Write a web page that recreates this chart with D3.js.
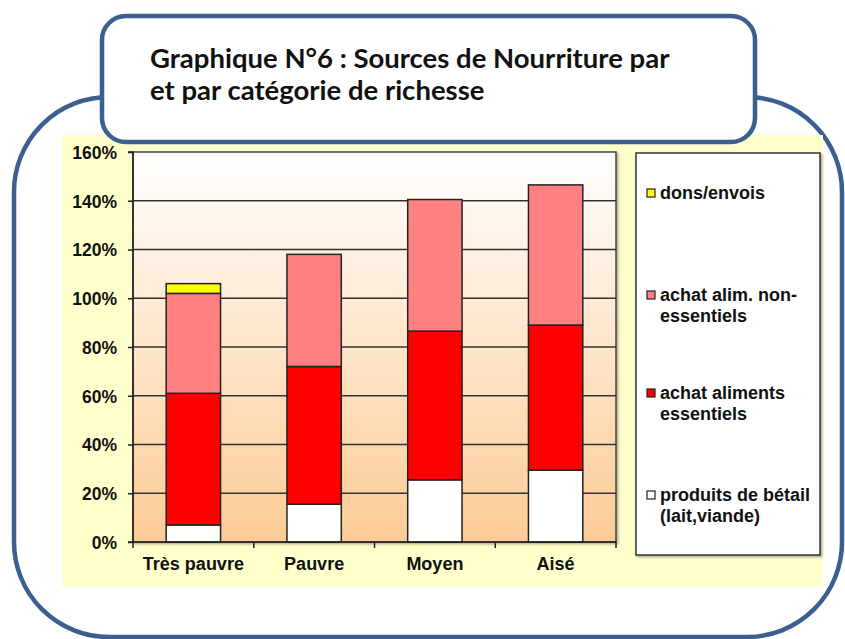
<!DOCTYPE html>
<html><head><meta charset="utf-8">
<script src="https://cdn.jsdelivr.net/npm/d3@7"></script>
<style>html,body{margin:0;padding:0;background:#fff;}svg{display:block;}</style>
</head><body>
<script>
const categories = ["Très pauvre", "Pauvre", "Moyen", "Aisé"];
const produitsBetail = [7, 15.5, 25.5, 29.5];
const achatEssentiels = [54, 56.5, 61, 59.5];
const achatNonEssentiels = [41, 46, 54, 57.5];
const dons = [4, 0, 0, 0];
const seriesNames = ["produits de bétail (lait,viande)", "achat aliments essentiels", "achat alim. non-essentiels", "dons/envois"];
const seriesColors = ["#FFFFFF", "#FF0000", "#FF8080", "#FFFF00"];
const yTicks = [0, 20, 40, 60, 80, 100, 120, 140, 160];
const titleLines = ["Graphique N°6 : Sources de Nourriture par", "et par catégorie de richesse"];
const legendLines = [
  ["dons/envois"],
  ["achat alim. non-", "essentiels"],
  ["achat aliments", "essentiels"],
  ["produits de bétail", "(lait,viande)"]
];
const legendColors = ["#FFFF00", "#FF8080", "#FF0000", "#FFFFFF"];

const W = 845, H = 639;
const svg = d3.select("body").append("svg").attr("width", W).attr("height", H);
const defs = svg.append("defs");
const grad = defs.append("linearGradient").attr("id", "bg").attr("x1", 0).attr("y1", 0).attr("x2", 0).attr("y2", 1);
grad.append("stop").attr("offset", "0%").attr("stop-color", "#FFFFFF");
grad.append("stop").attr("offset", "100%").attr("stop-color", "#FCCB95");
const sh = defs.append("filter").attr("id", "sh").attr("x", "-10%").attr("y", "-10%").attr("width", "130%").attr("height", "130%");
sh.append("feDropShadow").attr("dx", 1.5).attr("dy", 1.5).attr("stdDeviation", 1).attr("flood-color", "#000").attr("flood-opacity", 0.35);

const blue = "#3B5F8E";
const font = "Liberation Sans, Arial, sans-serif";
// outer frame
svg.append("rect").attr("x", 14).attr("y", 97).attr("width", 828).attr("height", 540)
  .attr("rx", 95).attr("ry", 95).attr("fill", "#fff").attr("stroke", blue).attr("stroke-width", 4.5);

// yellow chart area
svg.append("rect").attr("x", 62).attr("y", 135).attr("width", 761).attr("height", 452).attr("fill", "#FFFFCC");

// plot
const x0 = 133, x1 = 616, yTop = 152, yBot = 542;
const x = d3.scaleBand().domain(categories).range([x0, x1]).paddingInner(0.55).paddingOuter(0.275);
const y = d3.scaleLinear().domain([0, 160]).range([yBot, yTop]);

svg.append("rect").attr("x", x0).attr("y", yTop).attr("width", x1 - x0).attr("height", yBot - yTop)
  .attr("fill", "url(#bg)").attr("stroke", "#444").attr("stroke-width", 1.5).attr("filter", "url(#sh)");

// gridlines
svg.append("g").selectAll("line").data(yTicks.filter(d => d > 0 && d < 160)).join("line")
  .attr("x1", x0).attr("x2", x1).attr("y1", d => y(d)).attr("y2", d => y(d))
  .attr("stroke", "#333").attr("stroke-width", 1.5);

// stacks
const rows = categories.map((c, i) => ({cat: c, s0: produitsBetail[i], s1: achatEssentiels[i], s2: achatNonEssentiels[i], s3: dons[i]}));
const stack = d3.stack().keys(["s0", "s1", "s2", "s3"]);
const stacked = stack(rows);
const gBars = svg.append("g");
stacked.forEach((layer, li) => {
  gBars.selectAll(null).data(layer.filter(d => d[1] - d[0] > 0)).join("rect")
    .attr("x", d => x(d.data.cat)).attr("width", x.bandwidth())
    .attr("y", d => y(d[1])).attr("height", d => y(d[0]) - y(d[1]))
    .attr("fill", seriesColors[li]).attr("stroke", "#222").attr("stroke-width", 1.5);
});

// y axis
const yAxis = d3.axisLeft(y).tickValues(yTicks).tickFormat(d => d + "%").tickSize(5).tickPadding(11);
const gy = svg.append("g").attr("transform", `translate(${x0},0)`).call(yAxis);
gy.select(".domain").attr("stroke", "#222").attr("stroke-width", 1.5).attr("d", `M-5,${yTop}H0V${yBot}H-5`);
gy.selectAll(".tick line").attr("stroke", "#222").attr("stroke-width", 1.5);
gy.selectAll(".tick text").attr("font-family", font).attr("font-weight", "bold")
  .attr("font-size", 17.5).attr("fill", "#111").attr("dy", "0.36em");

// x axis
const xAxis = d3.axisBottom(x).tickSize(0).tickPadding(15);
const gx = svg.append("g").attr("transform", `translate(0,${yBot})`).call(xAxis);
gx.select(".domain").attr("stroke", "#222").attr("stroke-width", 1.5).attr("d", `M${x0},0H${x1}`);
gx.selectAll(".tick text").attr("font-family", font).attr("font-weight", "bold")
  .attr("font-size", 18).attr("fill", "#111");
const step = x.step();
const bounds = d3.range(categories.length + 1).map(i => x0 + i * step);
gx.selectAll("line.sep").data(bounds).join("line").attr("class", "sep")
  .attr("x1", d => d).attr("x2", d => d).attr("y1", 0).attr("y2", 6)
  .attr("stroke", "#222").attr("stroke-width", 1.5);

// legend
svg.append("rect").attr("x", 636).attr("y", 153).attr("width", 184).attr("height", 402)
  .attr("fill", "#fff").attr("stroke", "#333").attr("stroke-width", 1.5).attr("filter", "url(#sh)");
const legY = [193, 295, 393, 495];
const lg = svg.append("g");
legendLines.forEach((lines, i) => {
  lg.append("rect").attr("x", 647).attr("y", legY[i] - 4).attr("width", 8).attr("height", 8)
    .attr("fill", legendColors[i]).attr("stroke", "#222").attr("stroke-width", 1.2);
  lines.forEach((t, j) => {
    lg.append("text").attr("x", 660).attr("y", legY[i] + j * 21).attr("dy", "0.35em")
      .attr("font-family", font).attr("font-weight", "bold")
      .attr("font-size", 18).attr("fill", "#111").text(t);
  });
});

// title box
svg.append("rect").attr("x", 102).attr("y", 16).attr("width", 653).attr("height", 126)
  .attr("rx", 24).attr("ry", 24).attr("fill", "#fff").attr("stroke", blue).attr("stroke-width", 4.5);
titleLines.forEach((t, i) => {
  svg.append("text").attr("x", 150).attr("y", 68 + i * 32)
    .attr("font-family", "Lato, sans-serif").attr("font-weight", "bold").attr("font-size", 27.5)
    .attr("fill", "#111").text(t);
});
</script>
</body></html>
